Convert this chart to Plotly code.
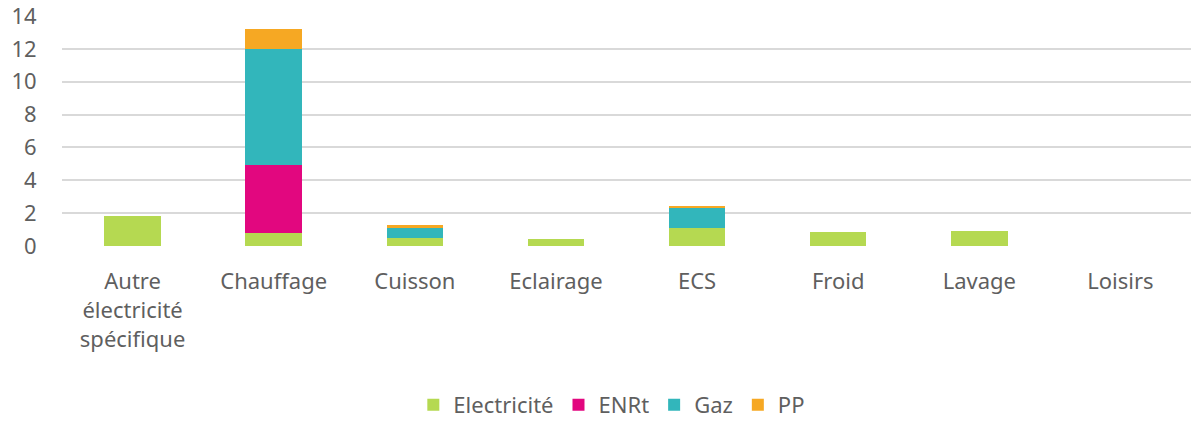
import plotly.graph_objects as go

categories = ["Autre<br>électricité<br>spécifique", "Chauffage", "Cuisson", "Eclairage",
              "ECS", "Froid", "Lavage", "Loisirs"]
electricite = [1.8, 0.77, 0.5, 0.41, 1.11, 0.85, 0.93, 0.0]
enrt = [0.0, 4.14, 0.0, 0.0, 0.0, 0.0, 0.0, 0.0]
gaz = [0.0, 7.08, 0.61, 0.0, 1.22, 0.0, 0.0, 0.0]
pp = [0.0, 1.2, 0.17, 0.0, 0.1, 0.0, 0.0, 0.0]
y_ticks = [0, 2, 4, 6, 8, 10, 12, 14]

series = [
    ("Electricité", electricite, "#B5D951"),
    ("ENRt", enrt, "#E2077F"),
    ("Gaz", gaz, "#32B6BB"),
    ("PP", pp, "#F6A823"),
]

text_color = "#5F5F5F"
font_family = "Noto Sans, Open Sans, sans-serif"
font_size = 22

fig = go.Figure()
for name, values, color in series:
    fig.add_trace(go.Bar(
        x=categories, y=values, name=name,
        marker=dict(color=color, line=dict(width=0)),
    ))

fig.update_layout(
    barmode="stack",
    bargap=0.6,
    width=1194, height=421,
    margin=dict(l=62, r=3, t=16, b=175),
    paper_bgcolor="white",
    plot_bgcolor="white",
    font=dict(family=font_family, size=font_size, color=text_color),
    xaxis=dict(showgrid=False, showline=False, ticks="outside", ticklen=16,
               tickcolor="rgba(0,0,0,0)", automargin=False,
               tickfont=dict(size=font_size, color=text_color)),
    yaxis=dict(range=[0, 14], tickvals=y_ticks, showgrid=True, gridcolor="#D9D9D9",
               gridwidth=1.5, zeroline=False, showline=False, automargin=False,
               ticks="outside", ticklen=20, tickcolor="rgba(0,0,0,0)",
               ticklabeloverflow="allow",
               tickfont=dict(size=font_size, color=text_color)),
    legend=dict(orientation="h", x=0.487, xanchor="center", yref="container",
                y=0.038, yanchor="middle",
                font=dict(size=font_size, color=text_color), itemwidth=30, traceorder="normal"),
)

fig.write_html("out.html")
